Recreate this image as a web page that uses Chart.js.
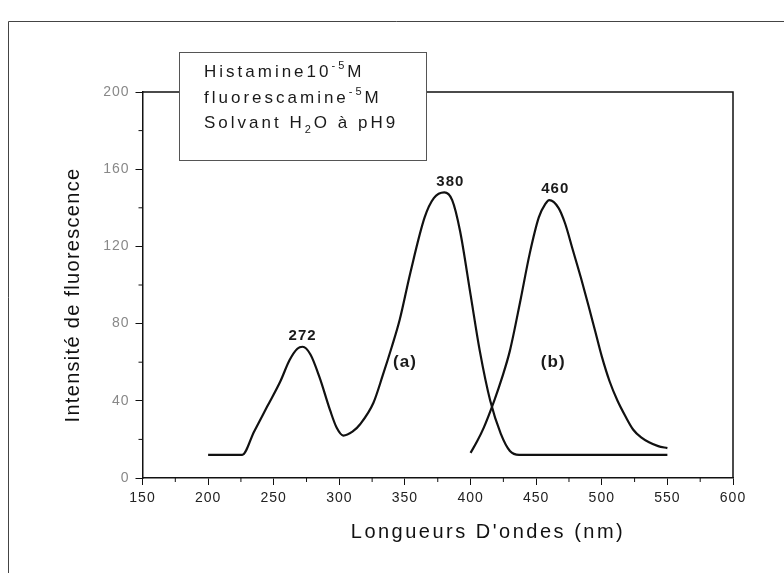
<!DOCTYPE html>
<html>
<head>
<meta charset="utf-8">
<script src="https://cdn.jsdelivr.net/npm/chart.js@4.4.0/dist/chart.umd.min.js"></script>
<style>
  html, body { margin: 0; padding: 0; background: #fff; }
  #wrap { width: 784px; height: 573px; }
</style>
</head>
<body>
<div id="wrap"><canvas id="fluo-chart" width="784" height="573"></canvas></div>
<script>
// courbe (a) : excitation
var waveA = [200, 210, 220, 226, 235, 245, 255, 262, 268, 272, 278, 285, 293, 298, 303, 310, 316, 326, 333, 340, 346, 354, 365, 372, 380, 386, 392, 400, 407, 415, 423, 430, 437, 450, 500, 550];
var intensA = [12, 12, 12, 12, 24, 37, 50, 61, 67, 68, 64, 52, 35, 26, 22, 24, 28, 39, 53, 68, 82, 106, 135, 145, 148, 144, 128, 95, 66, 40, 23, 14, 12, 12, 12, 12];
// courbe (b) : emission
var waveB = [400, 405, 410, 418, 424, 430, 438, 445, 452, 457, 460, 467, 472, 478, 484, 490, 495, 500, 506, 512, 518, 524, 530, 536, 543, 550];
var intensB = [13, 19, 26, 40, 52, 66, 92, 116, 135, 142, 144, 140, 132, 118, 104, 89, 76, 63, 50, 40, 32, 25, 21, 18.5, 16.5, 15.5];

var xTickValues = [150, 200, 250, 300, 350, 400, 450, 500, 550, 600];
var yTickValues = [0, 40, 80, 120, 160, 200];
var peakLabels = ['272', '380', '460'];
var curveNames = ['(a)', '(b)'];

var FONT = '"Liberation Sans", Arial, sans-serif';

function toPoints(xs, ys) {
  return xs.map(function (x, i) { return { x: x, y: ys[i] }; });
}

// draw text with sup/sub parts: [text, shift] shift 1 = sup, -1 = sub
function drawRich(ctx, x, y, parts) {
  parts.forEach(function (p) {
    var small = p[1] !== 0;
    ctx.font = (small ? '11px ' : '17px ') + FONT;
    var dy = p[1] === 1 ? -8 : (p[1] === -1 ? 5 : 0);
    ctx.fillText(p[0], x, y + dy);
    x += ctx.measureText(p[0]).width;
  });
}

var decorPlugin = {
  id: 'decor',
  beforeDraw: function (chart) {
    // tick labels of the scan are a bit spaced out
    chart.ctx.letterSpacing = '1px';
  },
  afterDraw: function (chart) {
    var ctx = chart.ctx, area = chart.chartArea;
    var xs = chart.scales.x, ys = chart.scales.y;
    ctx.save();

    // scan frame
    ctx.strokeStyle = '#444';
    ctx.lineWidth = 1;
    ctx.beginPath();
    ctx.moveTo(8.5, 573); ctx.lineTo(8.5, 21.5); ctx.lineTo(784, 21.5);
    ctx.stroke();

    // top and right side of the plot box
    ctx.strokeStyle = '#111';
    ctx.lineWidth = 1.5;
    ctx.beginPath();
    ctx.moveTo(area.left, area.top); ctx.lineTo(area.right, area.top); ctx.lineTo(area.right, area.bottom);
    ctx.stroke();

    // minor ticks
    ctx.lineWidth = 1;
    ctx.beginPath();
    for (var i = 0; i < xTickValues.length - 1; i++) {
      var px = xs.getPixelForValue((xTickValues[i] + xTickValues[i + 1]) / 2);
      ctx.moveTo(px, area.bottom); ctx.lineTo(px, area.bottom + 4);
    }
    for (i = 0; i < yTickValues.length - 1; i++) {
      var py = ys.getPixelForValue((yTickValues[i] + yTickValues[i + 1]) / 2);
      ctx.moveTo(area.left, py); ctx.lineTo(area.left - 4, py);
    }
    ctx.stroke();

    // legend box
    ctx.fillStyle = '#fff';
    ctx.strokeStyle = '#555';
    ctx.fillRect(179.5, 52.5, 247, 108);
    ctx.strokeRect(179.5, 52.5, 247, 108);
    ctx.fillStyle = '#1a1a1a';
    ctx.textAlign = 'left';
    ctx.textBaseline = 'alphabetic';
    ctx.letterSpacing = '3px';
    drawRich(ctx, 204, 77, [['Histamine10', 0], ['-5', 1], ['M', 0]]);
    drawRich(ctx, 204, 103, [['fluorescamine', 0], ['-5', 1], ['M', 0]]);
    drawRich(ctx, 204, 128, [['Solvant H', 0], ['2', -1], ['O à pH9', 0]]);

    // peak labels, above the peak points
    ctx.letterSpacing = '1px';
    ctx.font = 'bold 15px ' + FONT;
    ctx.textAlign = 'center';
    ctx.textBaseline = 'middle';
    var peakSrc = [[waveA, intensA, 0], [waveA, intensA, 6], [waveB, intensB, 6]];
    peakLabels.forEach(function (t, k) {
      var w = +t, src = peakSrc[k];
      var idx = src[0].indexOf(w);
      ctx.fillText(t, xs.getPixelForValue(w) + src[2], ys.getPixelForValue(src[1][idx]) - 11);
    });

    // curve names
    ctx.font = 'bold 17px ' + FONT;
    ctx.fillText(curveNames[0], xs.getPixelForValue(350), ys.getPixelForValue(60));
    ctx.fillText(curveNames[1], xs.getPixelForValue(463), ys.getPixelForValue(60));

    // axis titles
    ctx.fillStyle = '#111';
    ctx.letterSpacing = '2.5px';
    ctx.font = '20px ' + FONT;
    ctx.fillText("Longueurs D'ondes (nm)", 488, 532);

    ctx.letterSpacing = '1.3px';
    ctx.translate(73, 295);
    ctx.rotate(-Math.PI / 2);
    ctx.fillText('Intensité de fluorescence', 0, 0);

    ctx.restore();
  }
};

var fluoCanvas = document.getElementById('fluo-chart');
var fluoChart = new Chart(fluoCanvas, {
  type: 'line',
  data: {
    datasets: [{
      label: '(a)',
      data: toPoints(waveA, intensA),
      borderColor: '#111',
      borderWidth: 2.2,
      pointRadius: 0,
      cubicInterpolationMode: 'monotone',
      fill: false
    }, {
      label: '(b)',
      data: toPoints(waveB, intensB),
      borderColor: '#111',
      borderWidth: 2.2,
      pointRadius: 0,
      cubicInterpolationMode: 'monotone',
      fill: false
    }]
  },
  options: {
    responsive: false,
    animation: false,
    layout: { padding: { left: 55, top: 92, right: 51, bottom: 0 } },
    plugins: { legend: { display: false }, tooltip: { enabled: false } },
    scales: {
      x: {
        type: 'linear',
        min: 150,
        max: 600,
        afterBuildTicks: function (scale) {
          scale.ticks = xTickValues.map(function (v) { return { value: v }; });
        },
        afterFit: function (scale) { scale.height = 95; },
        ticks: { color: '#222', font: { family: FONT, size: 14 }, padding: 5, maxRotation: 0 },
        grid: { drawOnChartArea: false, drawTicks: true, tickLength: 7, tickColor: '#111' },
        border: { display: true, color: '#111', width: 1.5 }
      },
      y: {
        type: 'linear',
        min: 0,
        max: 200,
        afterBuildTicks: function (scale) {
          scale.ticks = yTickValues.map(function (v) { return { value: v }; });
        },
        afterFit: function (scale) { scale.width = 87.5; },
        ticks: { color: '#888', font: { family: FONT, size: 14 }, padding: 6 },
        grid: { drawOnChartArea: false, drawTicks: true, tickLength: 7, tickColor: '#111' },
        border: { display: true, color: '#111', width: 1.5 }
      }
    }
  },
  plugins: [decorPlugin]
});
</script>
</body>
</html>
